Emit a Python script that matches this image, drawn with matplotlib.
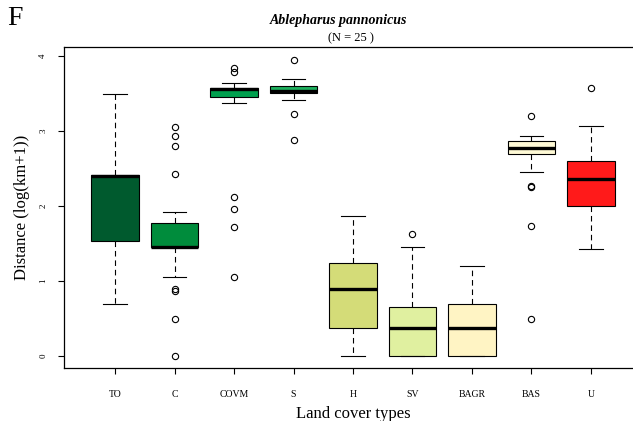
import matplotlib
matplotlib.use("Agg")
import matplotlib.pyplot as plt

plt.rcParams["font.family"] = ["Liberation Serif", "DejaVu Serif"]

# land cover types and box statistics
categories = ["TO", "C", "COVM", "S", "H", "SV", "BAGR", "BAS", "U"]
whislo = [0.70, 1.06, 3.37, 3.42, 0.00, 0.00, 0.00, 2.46, 1.43]
q1 = [1.54, 1.45, 3.45, 3.51, 0.38, 0.00, 0.00, 2.69, 2.00]
med = [2.40, 1.46, 3.56, 3.54, 0.89, 0.38, 0.38, 2.77, 2.36]
q3 = [2.42, 1.78, 3.58, 3.60, 1.24, 0.65, 0.70, 2.87, 2.60]
whishi = [3.50, 1.92, 3.64, 3.70, 1.87, 1.45, 1.20, 2.94, 3.07]
outliers = [
    [],
    [3.06, 2.93, 2.80, 2.43, 0.90, 0.87, 0.50, 0.00],
    [3.84, 3.79, 2.12, 1.96, 1.72, 1.06],
    [3.95, 3.22, 2.88],
    [],
    [1.63],
    [],
    [3.20, 2.27, 2.25, 1.73, 0.50],
    [3.58],
]
colors = ["#005a2e", "#008c3c", "#00a04e", "#1eb05e", "#d4dc78",
          "#e0f0a0", "#fff4c4", "#fffad6", "#ff1a1a"]

stats = []
for i in range(len(categories)):
    stats.append({"label": categories[i], "whislo": whislo[i], "q1": q1[i],
                  "med": med[i], "q3": q3[i], "whishi": whishi[i],
                  "fliers": outliers[i]})

fig = plt.figure(figsize=(6.33, 4.21), dpi=100)
ax = fig.add_axes([64 / 633, 53 / 421, 578 / 633, 321 / 421])

bp = ax.bxp(stats, positions=range(1, 10), widths=0.8, patch_artist=True,
            boxprops=dict(linewidth=0.8, edgecolor="black"),
            medianprops=dict(color="black", linewidth=2.4, solid_capstyle="butt"),
            whiskerprops=dict(linewidth=0.8, linestyle=(0, (5, 3.5))),
            capprops=dict(linewidth=0.8),
            flierprops=dict(marker="o", markersize=4.5, markerfacecolor="none",
                            markeredgecolor="black", markeredgewidth=0.8))
for patch, c in zip(bp["boxes"], colors):
    patch.set_facecolor(c)

ax.set_xlim(0.14, 9.86)
ax.set_ylim(-0.16, 4.12)
ax.set_yticks([0, 1, 2, 3, 4])
ax.set_yticklabels(["0", "1", "2", "3", "4"], rotation=90, va="center", fontsize=6.5)
ax.set_xticks(range(1, 10))
ax.set_xticklabels(categories, fontsize=7)
ax.tick_params(axis="both", direction="out", length=4, width=0.8)
ax.tick_params(axis="x", pad=12)
ax.tick_params(axis="y", pad=8)
for s in ["left", "top", "bottom"]:
    ax.spines[s].set_linewidth(0.9)
ax.spines["right"].set_visible(False)

ax.set_xlabel("Land cover types", fontsize=12, labelpad=5)
ax.set_ylabel("Distance (log(km+1))", fontsize=12, labelpad=7)

fig.text(0.535, 0.952, "Ablepharus pannonicus", ha="center", va="center",
         fontsize=10, fontweight="bold", fontstyle="italic")
fig.text(0.555, 0.910, "(N = 25 )", ha="center", va="center", fontsize=9)
fig.text(0.012, 0.955, "F", ha="left", va="center", fontsize=20)

fig.savefig("out.png", dpi=100)
